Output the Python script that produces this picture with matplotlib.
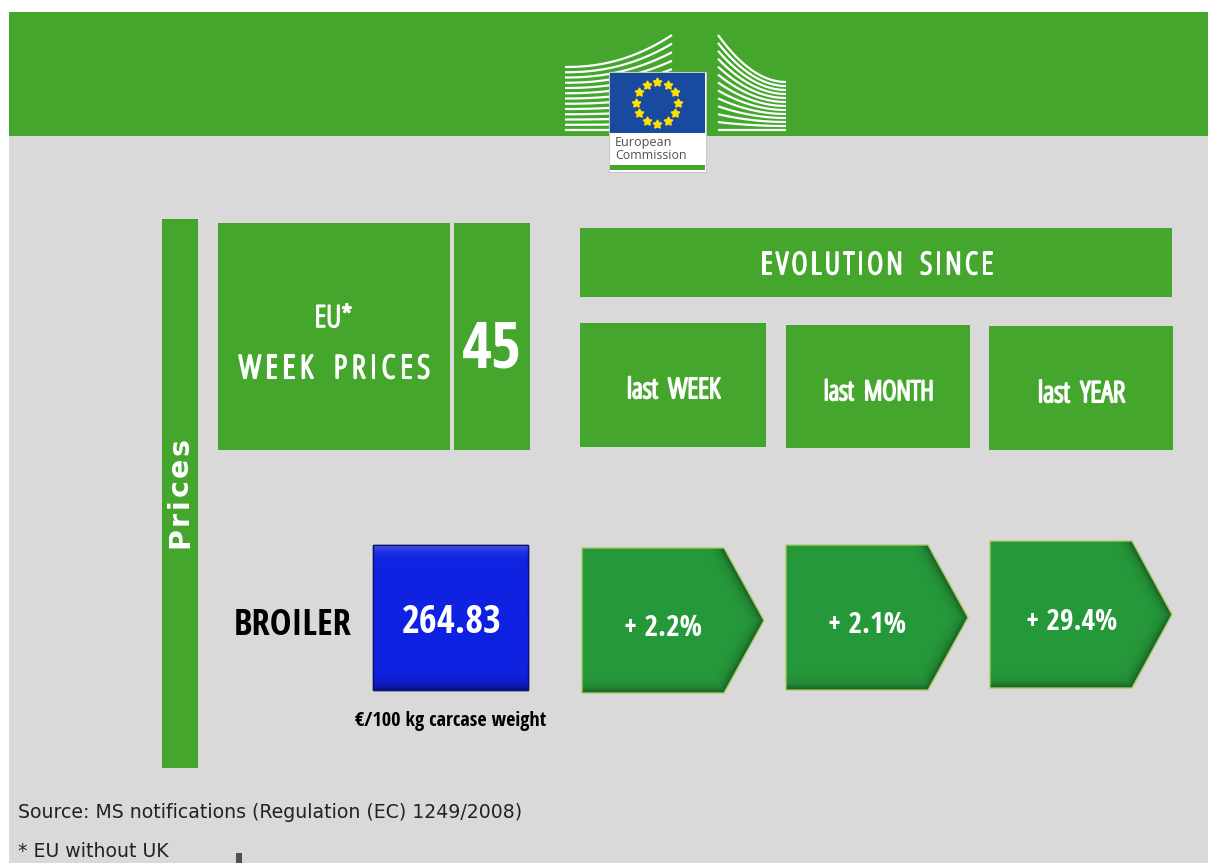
import os
import numpy as np
import matplotlib
matplotlib.use("Agg")
import matplotlib.pyplot as plt
import matplotlib.patheffects as pe
from matplotlib.patches import Rectangle, Polygon
from matplotlib import font_manager as fm
from matplotlib.font_manager import FontProperties

# ---------------- data ----------------
week_number = 45
product = "BROILER"
price = 264.83
price_unit = "€/100 kg carcase weight"
periods = ["last  WEEK", "last  MONTH", "last  YEAR"]
changes = [2.2, 2.1, 29.4]
header_left = ["EU*", "WEEK  PRICES"]
header_right = "EVOLUTION  SINCE"
side_label = "Prices"
footnotes = ["Source: MS notifications (Regulation (EC) 1249/2008)", "* EU without UK"]
logo_text = ["European", "Commission"]

# ---------------- colours ----------------
GREEN = "#44A62C"
ARROW = "#26993B"
ARROW_EDGE = "#A9CA62"
GREY = "#D9D9D9"
BLUE = "#0F22E2"
FLAG = "#184B9F"

W, H = 1208, 863
fig = plt.figure(figsize=(W / 100, H / 100), dpi=100)
fig.patch.set_facecolor("white")
ax = fig.add_axes([0, 0, 1, 1])
ax.axis("off")
renderer = fig.canvas.get_renderer()


# ---------------- fonts ----------------
def _w(f):
    w = f.weight
    if isinstance(w, str):
        w = fm.weight_dict.get(w, 400)
    return int(w)


def pick_font(target_weight):
    ranks = ["open sans", "roboto", "noto sans", "liberation", "dejavu"]
    best, best_score = None, None
    for f in fm.fontManager.ttflist:
        fn = os.path.basename(f.fname).lower()
        nm = f.name.lower()
        cond = ("condensed" in fn or "narrow" in fn or "condensed" in nm or "narrow" in nm
                or f.stretch in ("condensed", "semi-condensed"))
        if not cond or "extra" in fn or "ultra" in fn or "italic" in fn or "oblique" in fn:
            continue
        if f.style != "normal":
            continue
        rank = next((i for i, r in enumerate(ranks) if r in nm), len(ranks))
        score = rank * 1000 + abs(_w(f) - target_weight)
        if best_score is None or score < best_score:
            best, best_score = f, score
    if best is None:
        return FontProperties(family="DejaVu Sans", weight=target_weight, stretch="condensed")
    return FontProperties(fname=best.fname)


F_BOLD = pick_font(700)
F_LIGHT = pick_font(300)
F_PRICES = FontProperties(family="DejaVu Sans", weight="bold")
F_FOOT = FontProperties(family="DejaVu Sans")
F_LOGO = FontProperties(family=["Open Sans", "DejaVu Sans"])


def thick(lw, color="white"):
    return [pe.Stroke(linewidth=lw, foreground=color), pe.Normal()]


def sized(fp, size):
    p = fp.copy()
    p.set_size(size)
    return p


def text_w(s, fp):
    return renderer.get_text_width_height_descent(s, fp, ismath=False)[0]


def fit_text(s, x0, x1, base, fp, color, ha="center", scale=1.0, effects=None):
    size = scale * 20 * (x1 - x0) / text_w(s, sized(fp, 20))
    x = (x0 + x1) / 2 if ha == "center" else x0
    ax.text(x, base, s, ha=ha, va="baseline", fontproperties=sized(fp, size), color=color,
            zorder=6, path_effects=effects)


def spaced(s, start, end, base, fp, color, vertical=False, word_px=0.0, effects=None):
    """Letter-spaced text: tracking chosen so the string spans start..end."""
    glyphs, extra, pend = [], [], False
    for ch in s:
        if ch == " ":
            pend = True
            continue
        if glyphs:
            extra.append(word_px if pend else 0.0)
        glyphs.append((ch, text_w(ch, fp)))
        pend = False
    total = sum(w for _, w in glyphs) + sum(extra)
    t = (abs(end - start) - total) / len(extra)
    sign = 1 if end > start else -1
    pos = 0.0
    for i, (ch, w) in enumerate(glyphs):
        c = start + sign * (pos + w / 2)
        if vertical:
            ax.text(base, c, ch, rotation=90, rotation_mode="anchor", ha="center", va="baseline",
                    fontproperties=fp, color=color, zorder=6, path_effects=effects)
        else:
            ax.text(c, base, ch, ha="center", va="baseline", fontproperties=fp, color=color,
                    zorder=6, path_effects=effects)
        if i < len(extra):
            pos += w + t + extra[i]


def rgb(c):
    return np.array(matplotlib.colors.to_rgb(c))


def seg_dist(X, Y, p, q):
    p, q = np.array(p, float), np.array(q, float)
    d = q - p
    t = ((X - p[0]) * d[0] + (Y - p[1]) * d[1]) / (d @ d)
    t = np.clip(t, 0, 1)
    return np.hypot(X - (p[0] + t * d[0]), Y - (p[1] + t * d[1]))


def shaded_patch(patch, bbox, shade_fn, zorder):
    ax.add_patch(patch)
    x0, y0, x1, y1 = bbox
    gx = np.arange(int(x0), int(x1) + 1) + 0.5
    gy = np.arange(int(y0), int(y1) + 1) + 0.5
    X, Y = np.meshgrid(gx, gy)
    img = np.clip(shade_fn(X, Y), 0, 1)
    im = ax.imshow(img, extent=(int(x0), int(x1) + 1, int(y1) + 1, int(y0)), origin="upper",
                   zorder=zorder, interpolation="bilinear", aspect="auto")
    im.set_clip_path(patch)


# ---------------- background ----------------
ax.add_patch(Rectangle((9, 12), W - 9, H - 12, facecolor=GREY, edgecolor="none", zorder=0))
ax.add_patch(Rectangle((9, 12), W - 9, 124, facecolor=GREEN, edgecolor="none", zorder=1))

# ---------------- EC logo ----------------
n_lines = 13
for i in range(n_lines):
    f = i / (n_lines - 1)
    xs = np.linspace(565, 672, 60)
    t = (xs - 565) / 107
    yl = 130 - f * 63
    ys = yl - (f ** 1.3) * 32 * t ** 2.2
    ax.plot(xs, ys, color="white", lw=1.6, solid_capstyle="butt", zorder=2)
    xs = np.linspace(718, 786, 60)
    t = (xs - 718) / 68
    yL = 130 - f * 95
    yR = 130 - f * 48
    ys = yR + (yL - yR) * (1 - t) ** 2
    ax.plot(xs, ys, color="white", lw=1.6, solid_capstyle="butt", zorder=2)

ax.add_patch(Rectangle((609, 72), 97, 100, facecolor="white", edgecolor="#C8C8C8", lw=0.8, zorder=3))
ax.add_patch(Rectangle((610, 73), 95, 60, facecolor=FLAG, edgecolor="none", zorder=3.1))
ax.add_patch(Rectangle((610, 165), 95, 5, facecolor=GREEN, edgecolor="none", zorder=3.1))
ang = np.linspace(0, 2 * np.pi, 13)[:-1]
ax.plot(657 + 21 * np.cos(ang), 103 + 21 * np.sin(ang), ls="none", marker=(5, 1, 0),
        ms=6.5, color="#FFE100", mec="#FFE100", zorder=3.2)
fit_text(logo_text[0], 615, 672, 146, F_LOGO, "#505050", ha="left")
fit_text(logo_text[1], 615, 686, 159, F_LOGO, "#505050", ha="left")

# ---------------- left headers ----------------
ax.add_patch(Rectangle((162, 219), 36, 549, facecolor=GREEN, edgecolor="none", zorder=2))
spaced(side_label, 548, 438, 188, sized(F_PRICES, 20.5), "white", vertical=True)

ax.add_patch(Rectangle((218, 223), 232, 227, facecolor=GREEN, edgecolor="none", zorder=2))
ax.add_patch(Rectangle((454, 223), 76, 227, facecolor=GREEN, edgecolor="none", zorder=2))
fit_text(header_left[0], 314, 353, 327, F_LIGHT, "white", scale=0.97, effects=thick(1.2))
spaced(header_left[1], 239, 430, 378, sized(F_LIGHT, 23), "white", word_px=16, effects=thick(1.5))
fit_text(str(week_number), 468, 515, 367, F_BOLD, "white", scale=1.28)

# ---------------- right headers ----------------
ax.add_patch(Rectangle((580, 228), 592, 69, facecolor=GREEN, edgecolor="none", zorder=2))
spaced(header_right, 761, 993, 274, sized(F_LIGHT, 22), "white", word_px=14, effects=thick(1.4))

period_boxes = [(580, 323, 186, 124), (786, 325, 184, 123), (989, 326, 184, 124)]
period_text = [(626, 721, 398), (823, 935, 400), (1037, 1126, 402)]
for lab, (bx, by, bw, bh), (tx0, tx1, tb) in zip(periods, period_boxes, period_text):
    ax.add_patch(Rectangle((bx, by), bw, bh, facecolor=GREEN, edgecolor="none", zorder=2))
    fit_text(lab, tx0, tx1, tb, F_LIGHT, "white", scale=0.98, effects=thick(1.5))

# ---------------- product row ----------------
fit_text(product, 238, 347, 635, F_BOLD, "black", scale=1.08)

blue_rect = Rectangle((373, 545), 155, 145, facecolor=BLUE, edgecolor="#0A1470", lw=1.0, zorder=2)


def blue_shade(X, Y):
    base = rgb(BLUE)
    top = np.exp(-(Y - 545) / 5.0)[..., None]
    bot = np.exp(-(690 - Y) / 6.0)[..., None]
    img = base + (1 - base) * 0.35 * top
    img = img * (1 - 0.45 * bot)
    return img


shaded_patch(blue_rect, (373, 545, 528, 690), blue_shade, 2.1)
ax.add_patch(Rectangle((373, 545), 155, 145, facecolor="none", edgecolor="#0A1470", lw=1.0, zorder=2.2))
fit_text(f"{price:.2f}", 406, 497, 633, F_BOLD, "white", scale=1.1)
fit_text(price_unit, 359, 543, 726, F_BOLD, "black", scale=1.04)

# ---------------- arrows ----------------
arrow_geom = [(582, 764, 548, 693), (786, 968, 545, 690), (990, 1172, 541, 688)]
arrow_text = [(627, 698, 636), (832, 903, 633), (1030, 1113, 630)]
for val, (x0, x1, y0, y1), (tx0, tx1, tb) in zip(changes, arrow_geom, arrow_text):
    xr = x0 + 0.78 * (x1 - x0)
    ym = (y0 + y1) / 2
    verts = [(x0, y0), (xr, y0), (x1, ym), (xr, y1), (x0, y1)]
    poly = Polygon(verts, closed=True, facecolor=ARROW, edgecolor="none", zorder=2)

    def arrow_shade(X, Y, xr=xr, x1=x1, y0=y0, y1=y1, ym=ym, x0=x0):
        d = np.minimum.reduce([
            np.abs(y1 - Y),
            seg_dist(X, Y, (xr, y0), (x1, ym)),
            seg_dist(X, Y, (x1, ym), (xr, y1)),
        ])
        k = np.exp(-d / 5.0)[..., None]
        return rgb(ARROW) * (1 - 0.45 * k)

    shaded_patch(poly, (x0, y0, x1, y1), arrow_shade, 2.1)
    ax.add_patch(Polygon(verts, closed=True, facecolor="none", edgecolor=ARROW_EDGE, lw=1.0, zorder=2.2))
    fit_text(f"+ {val:.1f}%", tx0, tx1, tb, F_BOLD, "white", scale=1.1)

# ---------------- footnotes ----------------
fit_text(footnotes[0], 18, 522, 818, F_FOOT, "#222222", ha="left")
size_fn = 20 * (522 - 18) / text_w(footnotes[0], sized(F_FOOT, 20))
ax.text(18, 857, footnotes[1], ha="left", va="baseline", fontproperties=sized(F_FOOT, size_fn),
        color="#222222", zorder=6)
ax.add_patch(Rectangle((236, 853), 6, 10, facecolor="#505050", edgecolor="none", zorder=6))

ax.set_xlim(0, W)
ax.set_ylim(H, 0)
fig.savefig("out.png", dpi=100, facecolor="white")
